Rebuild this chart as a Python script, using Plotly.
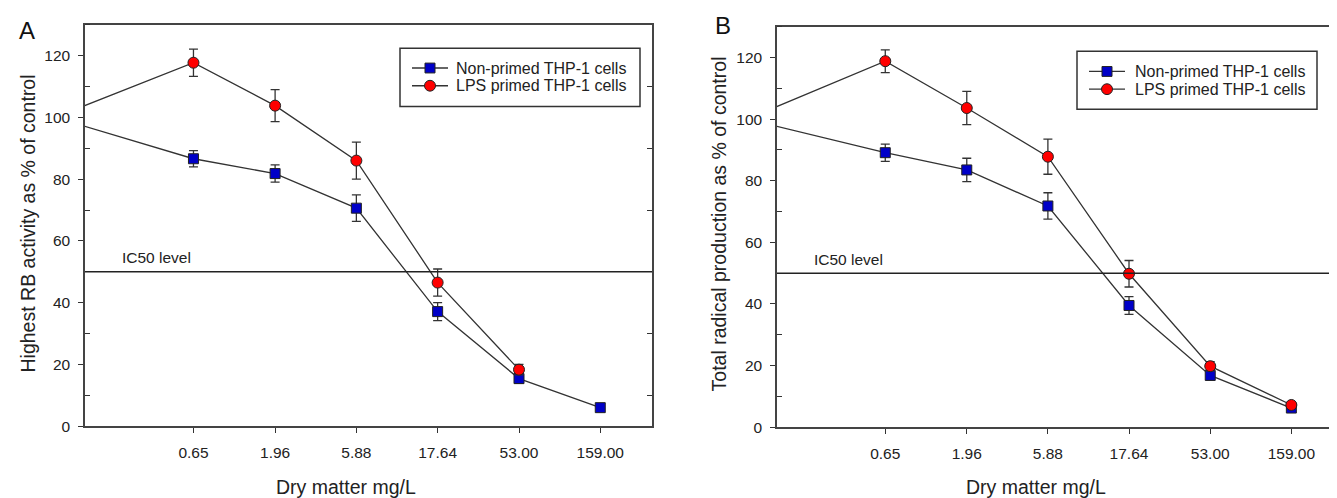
import math
import plotly.graph_objects as go

# ---------------- data ----------------
# concentrations (mg/L dry matter); the first value is the untreated control
conc = [0.1, 0.65, 1.96, 5.88, 17.64, 53.00, 159.00]
tick_vals = [0.65, 1.96, 5.88, 17.64, 53.00, 159.00]
tick_text = ["0.65", "1.96", "5.88", "17.64", "53.00", "159.00"]

# Panel A: highest RB activity as % of control
a_nonprimed = [100, 86.6, 81.8, 70.6, 37.1, 15.4, 6.0]
a_nonprimed_err = [0, 2.6, 2.8, 4.3, 2.9, 1.5, 1.0]
a_lps = [100, 117.7, 103.8, 86.0, 46.5, 18.3, None]
a_lps_err = [0, 4.4, 5.2, 6.0, 4.4, 1.7, 0]

# Panel B: total radical production as % of control
b_nonprimed = [100, 89.1, 83.5, 71.8, 39.5, 16.8, 6.2]
b_nonprimed_err = [0, 2.8, 3.8, 4.3, 2.9, 1.5, 0.8]
b_lps = [100, 118.8, 103.6, 87.8, 49.8, 19.8, 7.2]
b_lps_err = [0, 3.7, 5.4, 5.7, 4.3, 1.5, 1.0]

ic50 = 50
names = ["Non-primed THP-1 cells", "LPS primed THP-1 cells"]
y_titles = ["Highest RB activity as % of control", "Total radical production as % of control"]
x_title = "Dry matter mg/L"

# ---------------- styling ----------------
W, H = 1337, 498
FONT = "Liberation Sans, Arial, sans-serif"
TXT = "#222222"
LINE = "#333333"
BLUE = "#0000c8"
RED = "#ff0000"

def px_x(p):
    return p / W

def px_y(p):
    return (H - p) / H

fig = go.Figure()

def add_series(x, y, err, name, color, symbol, xa, ya, size):
    fig.add_trace(go.Scatter(
        x=x, y=y, name=name, mode="lines+markers",
        xaxis=xa, yaxis=ya, showlegend=False,
        line=dict(color=LINE, width=1.3),
        marker=dict(color=color, symbol=symbol, size=size,
                    line=dict(color="#222222", width=1)),
        error_y=dict(type="data", array=err, visible=True,
                     color=LINE, thickness=1.3, width=4.5),
        connectgaps=False,
    ))

add_series(conc, a_nonprimed, a_nonprimed_err, names[0], BLUE, "square", "x", "y", 10)
add_series(conc, a_lps, a_lps_err, names[1], RED, "circle", "x", "y", 11)
add_series(conc, b_nonprimed, b_nonprimed_err, names[0], BLUE, "square", "x2", "y2", 10)
add_series(conc, b_lps, b_lps_err, names[1], RED, "circle", "x2", "y2", 11)

xrange_log = [math.log10(0.15), math.log10(320)]

def xaxis_cfg(domain):
    return dict(
        type="log", domain=domain, range=xrange_log,
        tickmode="array", tickvals=tick_vals, ticktext=tick_text,
        ticks="outside", ticklen=5, tickwidth=1.3, tickcolor=LINE,
        showline=True, linecolor="#444444", linewidth=1.5, mirror=True,
        showgrid=False, zeroline=False,
        tickfont=dict(family=FONT, size=15.5, color=TXT),
        ticklabelstandoff=6,
    )

def yaxis_cfg(domain, anchor):
    return dict(
        domain=domain, range=[0, 130], anchor=anchor,
        tickmode="array", tickvals=[0, 20, 40, 60, 80, 100, 120],
        ticks="outside", ticklen=5, tickwidth=1.3, tickcolor=LINE,
        minor=dict(tickmode="array", tickvals=[10, 30, 50, 70, 90, 110, 130],
                   ticks="inside", ticklen=5, tickwidth=1.3, tickcolor=LINE),
        showline=True, linecolor="#444444", linewidth=1.5, mirror=True,
        showgrid=False, zeroline=False,
        tickfont=dict(family=FONT, size=15.5, color=TXT),
        ticklabelstandoff=5,
    )

def right_ticks_cfg(overlay, anchor):
    return dict(
        overlaying=overlay, side="right", anchor=anchor, range=[0, 130],
        tickmode="array", tickvals=[10, 30, 50, 70, 90, 110],
        ticks="inside", ticklen=5, tickwidth=1.3, tickcolor=LINE,
        showticklabels=False, showline=False, showgrid=False, zeroline=False,
    )

xa_dom = [px_x(77), px_x(644)]
xb_dom = [px_x(769), px_x(1335)]
ya_dom = [px_y(425), px_y(17)]
yb_dom = [px_y(426), px_y(19)]

# invisible carriers so the right-hand tick axes are drawn
fig.add_trace(go.Scatter(x=[None], y=[None], xaxis="x", yaxis="y3", showlegend=False, hoverinfo="skip"))
fig.add_trace(go.Scatter(x=[None], y=[None], xaxis="x2", yaxis="y4", showlegend=False, hoverinfo="skip"))

fig.update_layout(
    width=W, height=H,
    margin=dict(l=0, r=0, t=0, b=0),
    paper_bgcolor="white", plot_bgcolor="white",
    font=dict(family=FONT, color=TXT),
    xaxis=xaxis_cfg(xa_dom) | dict(anchor="y"),
    yaxis=yaxis_cfg(ya_dom, "x"),
    xaxis2=xaxis_cfg(xb_dom) | dict(anchor="y2"),
    yaxis2=yaxis_cfg(yb_dom, "x2"),
    yaxis3=right_ticks_cfg("y", "x"),
    yaxis4=right_ticks_cfg("y2", "x2"),
    showlegend=False,
)

shapes = []
annotations = []

# IC50 reference lines
for xr, yr in (("x", "y"), ("x2", "y2")):
    shapes.append(dict(type="line", xref=f"{xr} domain", yref=yr,
                       x0=0, x1=1, y0=ic50, y1=ic50,
                       line=dict(color="#222222", width=1.5)))

# legends (box, line key, marker key, label)
def add_legend(box, rows, line_x, text_x):
    x0, x1, y0, y1 = box
    shapes.append(dict(type="rect", xref="paper", yref="paper",
                       x0=px_x(x0), x1=px_x(x1), y0=px_y(y1), y1=px_y(y0),
                       line=dict(color="#333333", width=1.5), fillcolor="white"))
    mx = (line_x[0] + line_x[1]) / 2
    for ry, name, color, kind in zip(rows, names, [BLUE, RED], ["rect", "circle"]):
        shapes.append(dict(type="line", xref="paper", yref="paper",
                           x0=px_x(line_x[0]), x1=px_x(line_x[1]), y0=px_y(ry), y1=px_y(ry),
                           line=dict(color=LINE, width=1.3)))
        r = 5 if kind == "rect" else 5.5
        shapes.append(dict(type=kind, xref="paper", yref="paper",
                           x0=px_x(mx - r), x1=px_x(mx + r), y0=px_y(ry + r), y1=px_y(ry - r),
                           line=dict(color="#222222", width=1), fillcolor=color))
        annotations.append(dict(text=name, xref="paper", yref="paper",
                                x=px_x(text_x), y=px_y(ry), xanchor="left", yanchor="middle",
                                showarrow=False, font=dict(family=FONT, size=16, color=TXT)))

add_legend((392, 632, 41, 100), (61, 79), (404, 440), 446)
add_legend((1069, 1309, 44, 103), (64.5, 82.5), (1081, 1117), 1125)

annotations += [
    # IC50 labels
    dict(text="IC50 level", xref="x domain", yref="y", x=35 / 567, y=ic50 + 4.5,
         xanchor="left", yanchor="middle", showarrow=False,
         font=dict(family=FONT, size=15.5, color=TXT)),
    dict(text="IC50 level", xref="x2 domain", yref="y2", x=35 / 566, y=ic50 + 4.5,
         xanchor="left", yanchor="middle", showarrow=False,
         font=dict(family=FONT, size=15.5, color=TXT)),
    # x titles
    dict(text=x_title, xref="paper", yref="paper", x=px_x(338), y=px_y(487),
         xanchor="center", yanchor="middle", showarrow=False,
         font=dict(family=FONT, size=19.5, color=TXT)),
    dict(text=x_title, xref="paper", yref="paper", x=px_x(1028), y=px_y(487),
         xanchor="center", yanchor="middle", showarrow=False,
         font=dict(family=FONT, size=19.5, color=TXT)),
    # y titles
    dict(text=y_titles[0], xref="paper", yref="paper", x=px_x(20), y=px_y(219),
         xanchor="center", yanchor="middle", textangle=-90, showarrow=False,
         font=dict(family=FONT, size=19.5, color=TXT)),
    dict(text=y_titles[1], xref="paper", yref="paper", x=px_x(711), y=px_y(220),
         xanchor="center", yanchor="middle", textangle=-90, showarrow=False,
         font=dict(family=FONT, size=19.5, color=TXT)),
    # panel letters
    dict(text="A", xref="paper", yref="paper", x=px_x(19), y=px_y(23),
         xanchor="center", yanchor="middle", showarrow=False,
         font=dict(family=FONT, size=24, color="#111111")),
    dict(text="B", xref="paper", yref="paper", x=px_x(715), y=px_y(18),
         xanchor="center", yanchor="middle", showarrow=False,
         font=dict(family=FONT, size=24, color="#111111")),
]
fig.update_layout(shapes=shapes, annotations=annotations)

fig.write_html("out.html")
